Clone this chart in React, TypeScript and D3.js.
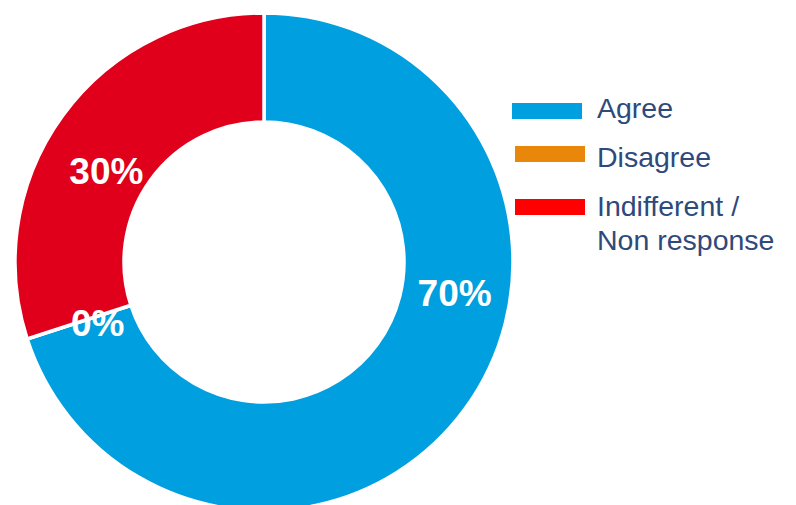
import React from "react";
import * as d3 from "d3";

const categories = ["Agree", "Disagree", "Indifferent / Non response"];
const values = [70, 0, 30];
const labels = ["70%", "0%", "30%"];
const sliceColors = ["#009FDF", "#E8870A", "#E0001B"];
const legendColors = ["#009FDF", "#E8870A", "#FF0000"];
const legendLines = [["Agree"], ["Disagree"], ["Indifferent /", "Non response"]];

export default function App() {
  const W = 796, H = 505;
  const cx = 264, cy = 262, R = 249, r = 140;
  const pie = d3.pie<number>().sort(null).value((d) => d)(values);
  const arc = d3.arc<d3.PieArcDatum<number>>().innerRadius(r).outerRadius(R);
  const labelAngleShift = [-27, -2, -6];
  const labelRadius = [193, 177, 182];
  const rectY = [103, 146, 199];
  const textY = [118, 167, 216];
  return (
    <svg width={W} height={H} style={{ position: "absolute", left: 0, top: 0, fontFamily: "Liberation Sans, Arial, sans-serif" }}>
      <rect width={W} height={H} fill="#fff" />
      <g transform={`translate(${cx},${cy})`}>
        {pie.map((p, i) => (
          <path key={i} d={arc(p) || ""} fill={sliceColors[i]} stroke="#fff" strokeWidth={3.5} />
        ))}
        {pie.map((p, i) => {
          const a = (p.startAngle + p.endAngle) / 2 + (labelAngleShift[i] * Math.PI) / 180;
          const x = Math.sin(a) * labelRadius[i];
          const y = -Math.cos(a) * labelRadius[i];
          return (
            <text key={i} x={x} y={y} dy="0.36em" textAnchor="middle" fill="#fff" fontWeight="bold" fontSize={37}>
              {labels[i]}
            </text>
          );
        })}
      </g>
      {categories.map((c, i) => (
        <g key={c}>
          <rect x={i === 0 ? 512 : 515} y={rectY[i]} width={70} height={16} fill={legendColors[i]} />
          {legendLines[i].map((t, j) => (
            <text key={j} x={597} y={textY[i] + j * 34} fill="#2E4A7B" fontSize={28.5}>
              {t}
            </text>
          ))}
        </g>
      ))}
    </svg>
  );
}
